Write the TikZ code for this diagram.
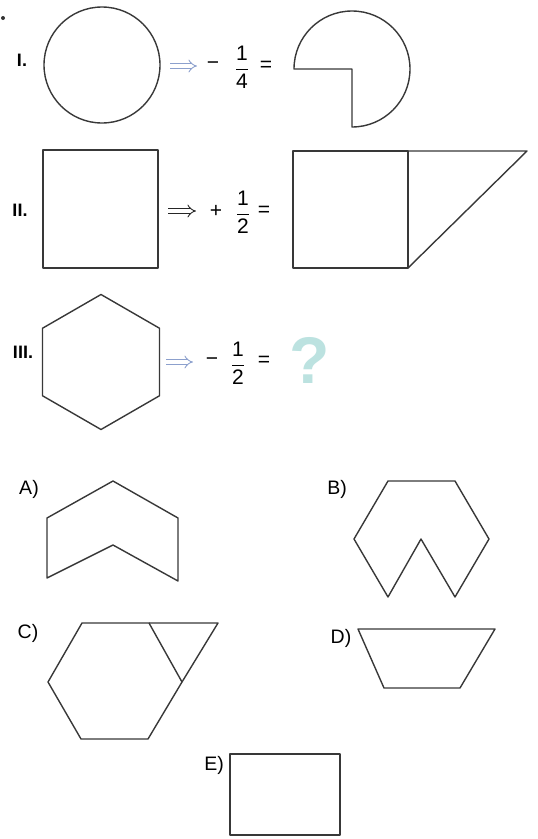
\documentclass[tikz,border=0pt]{standalone}
\usepackage{fontspec}
\setmainfont{Liberation Sans}
\usepackage{amsmath}
\usetikzlibrary{arrows.meta}
\definecolor{HintBlue}{RGB}{140,160,205}
\definecolor{QMark}{RGB}{188,226,224}

\begin{document}
\begin{tikzpicture}[x=1pt, y=-1pt,
    fig/.style={line width=1.4pt, draw=black!78, line join=round},
    roman/.style={font=\fontsize{18}{18}\selectfont\bfseries},
    choice/.style={font=\fontsize{19.5}{19.5}\selectfont},
    sym/.style={font=\fontsize{21}{21}\selectfont},
    impl/.style={double, double distance=3.6pt, line width=0.9pt, -{Implies}}]
  \useasboundingbox (0,0) rectangle (538,839);

  % Question dot
  \fill[black!80] (3,18) circle[radius=2pt];

  % Row I: circle minus a quarter
  \node[roman] (lblI) at (22,60) {I.};
  \draw[fig] (102,65) circle[radius=58pt];
  \coordinate (arrIa) at (170,66);
  \coordinate (arrIb) at (197,66);
  \draw[impl, HintBlue] (arrIa) -- (arrIb);
  \node[sym] (minI) at (213,66) {−};
  \node[sym] (fracI) at (242,67) {$\dfrac{\mbox{1}}{\mbox{4}}$};
  \node[sym] (eqI) at (266,66) {=};
  \draw[fig] (352,69) -- (294,69) arc[start angle=180, end angle=-90, radius=58pt] -- cycle;

  % Row II: square plus a half
  \node[roman] (lblII) at (20,210) {II.};
  \draw[fig] (43,150) rectangle (158,268);
  \coordinate (arrIIa) at (168,211);
  \coordinate (arrIIb) at (196,211);
  \draw[impl, black!85] (arrIIa) -- (arrIIb);
  \node[sym] (plusII) at (216,211) {+};
  \node[sym] (fracII) at (243,212) {$\dfrac{\mbox{1}}{\mbox{2}}$};
  \node[sym] (eqII) at (264,211) {=};
  \draw[fig] (293,151) rectangle (408,268);
  \draw[fig] (408,151) -- (527,151) -- (408,268);

  % Row III: hexagon minus a half
  \node[roman] (lblIII) at (23,352) {III.};
  \draw[fig] (101,294.5) -- (159.5,328.25) -- (159.5,395.75) -- (101,429.5)
    -- (42.5,395.75) -- (42.5,328.25) -- cycle;
  \coordinate (arrIIIa) at (166,362);
  \coordinate (arrIIIb) at (193,362);
  \draw[impl, HintBlue] (arrIIIa) -- (arrIIIb);
  \node[sym] (minIII) at (212,362) {−};
  \node[sym] (fracIII) at (238,363) {$\dfrac{\mbox{1}}{\mbox{2}}$};
  \node[sym] (eqIII) at (264,361) {=};
  \node[font=\fontsize{66}{66}\selectfont\bfseries, text=QMark] (qmark) at (310,360) {?};

  % Choices
  \node[choice] (optA) at (29,489) {A)};
  \draw[fig] (47,518) -- (113,481) -- (178,518) -- (178,581) -- (113,545) -- (47,578) -- cycle;

  \node[choice] (optB) at (337,489) {B)};
  \draw[fig] (388,481) -- (455,481) -- (489,539) -- (455,597) -- (421,539) -- (388,597)
    -- (354,539) -- cycle;

  \node[choice] (optC) at (28,633) {C)};
  \draw[fig] (82,623) -- (149,623) -- (182,682) -- (148,739) -- (81,739) -- (48,682) -- cycle;
  \draw[fig] (149,623) -- (218,623) -- (182,682);

  \node[choice] (optD) at (341,638) {D)};
  \draw[fig] (358,629) -- (495,629) -- (460,688) -- (384,688) -- cycle;

  \node[choice] (optE) at (214,765) {E)};
  \draw[fig] (230,754) rectangle (340,835);
\end{tikzpicture}
\end{document}
